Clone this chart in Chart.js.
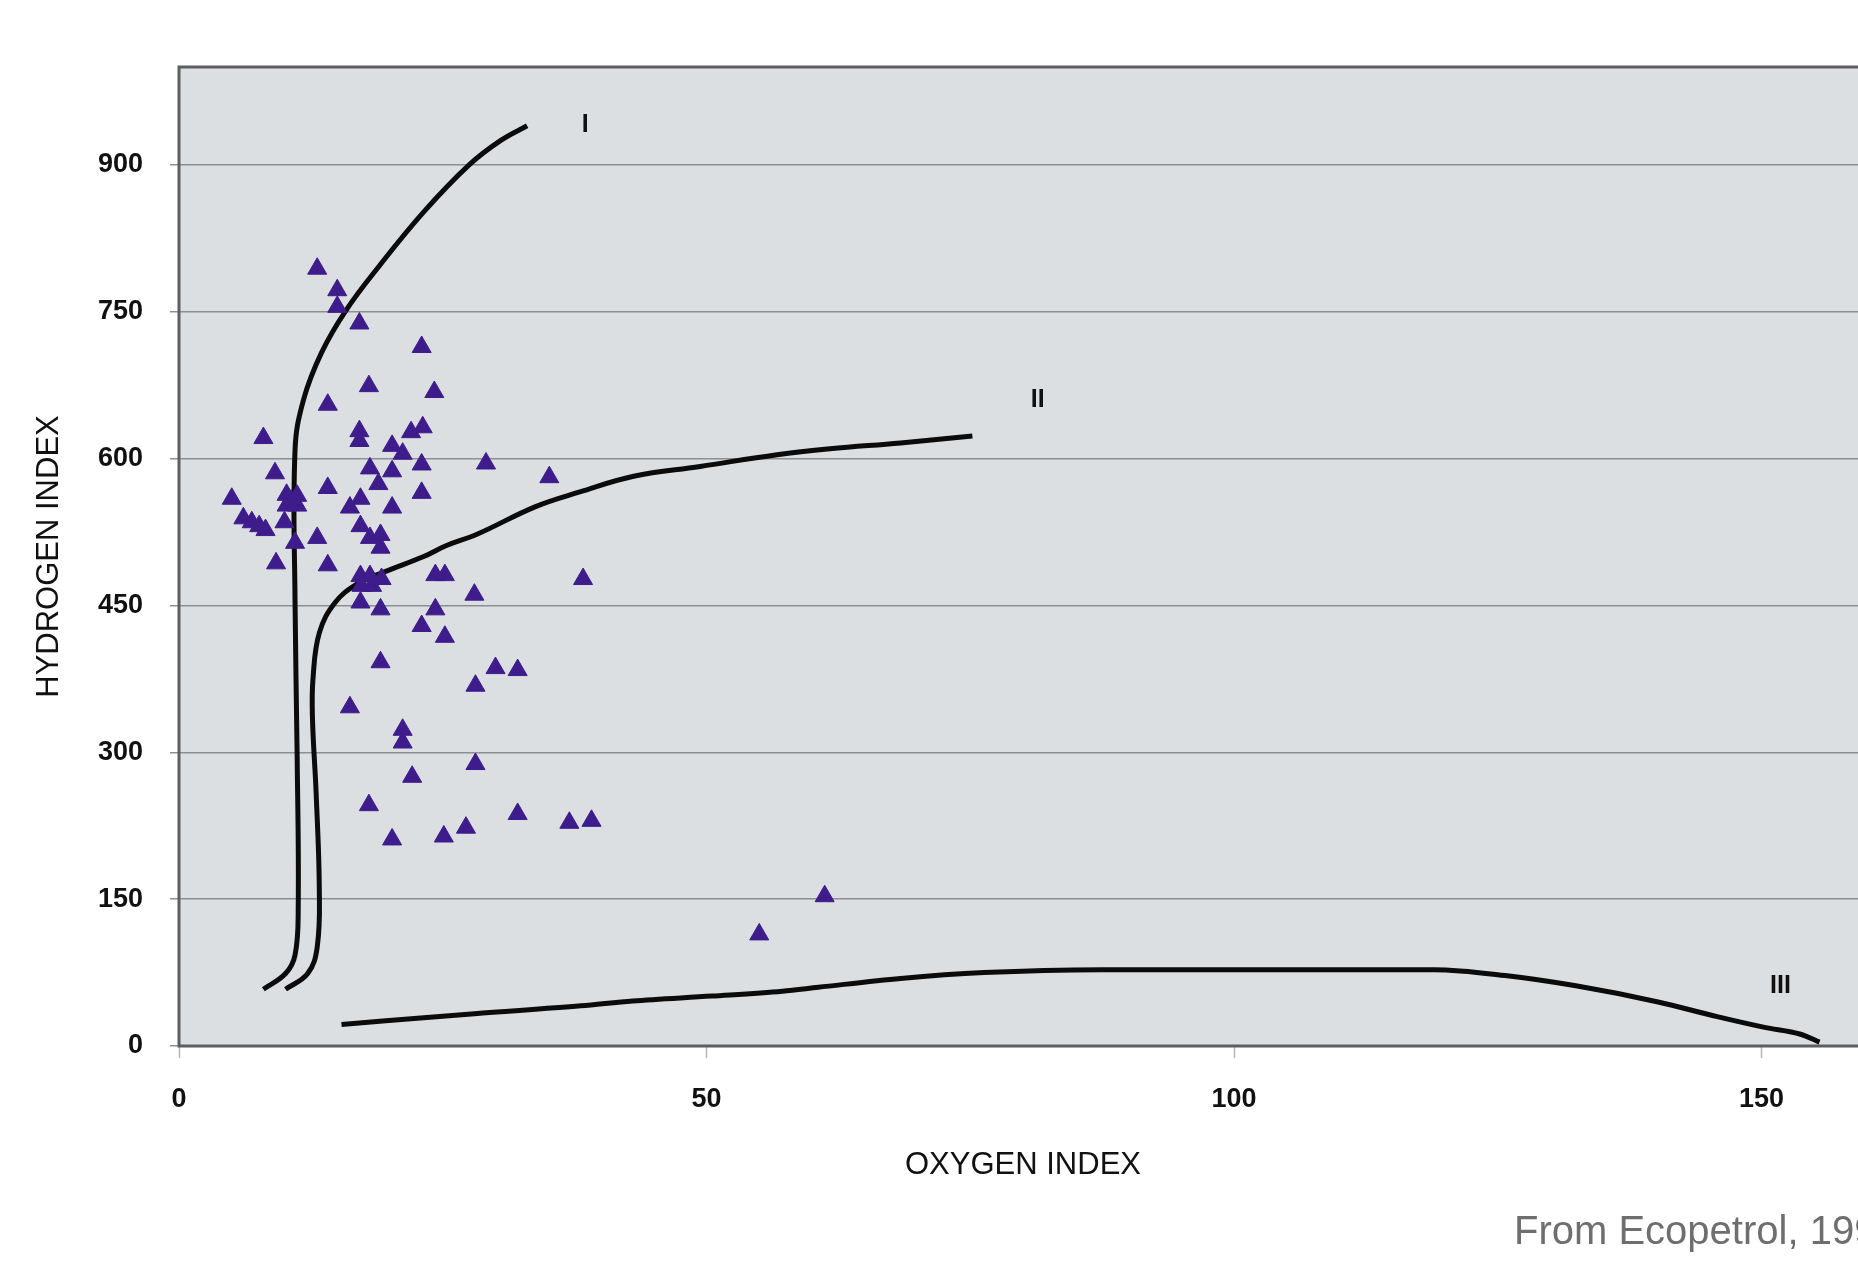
<!DOCTYPE html>
<html>
<head>
<meta charset="utf-8">
<title>Hydrogen index vs oxygen index</title>
<script src="https://cdn.jsdelivr.net/npm/chart.js@4/dist/chart.umd.min.js"></script>
<style>
  html, body { margin: 0; padding: 0; background: #fff; overflow: hidden; }
  #wrap { width: 1900px; height: 1264px; }
</style>
</head>
<body>
<div id="wrap"><canvas id="chart" width="1900" height="1264"></canvas></div>
<script>
// ===============================
// Data
// ===============================
const xTicks = [0, 50, 100, 150];
const yTicks = [0, 150, 300, 450, 600, 750, 900];

// Samples: oxygen index / hydrogen index
const sampleOI = [
  13.1, 15.0, 15.0, 17.1, 23.0, 18.0, 24.2, 14.1, 8.0, 17.1,
  17.1, 22.0, 23.1, 20.2, 21.2, 23.0, 9.1, 18.1, 20.2, 18.9,
  23.0, 14.1, 5.0, 10.2, 11.2, 10.2, 11.2, 10.6, 16.2, 17.2,
  20.2, 6.1, 6.9, 7.6, 8.2, 10.0, 17.2, 18.1, 19.1, 19.1,
  11.0, 13.1, 9.2, 14.1, 17.2, 18.1, 19.2, 17.3, 18.3, 17.2,
  19.1, 24.3, 25.2, 28.0, 24.3, 23.0, 25.2, 19.1, 29.1, 35.1,
  38.3, 30.0, 32.1, 28.1, 16.2, 21.2, 21.2, 28.1, 22.1, 18.0,
  32.1, 37.0, 39.1, 27.2, 25.1, 20.2, 55.0, 61.2
];
const sampleHI = [
  794, 772, 755, 738, 714, 674, 668, 655, 621, 628,
  618, 627, 632, 613, 605, 594, 585, 590, 587, 574,
  565, 570, 559, 563, 562, 552, 552, 557, 550, 559,
  550, 539, 535, 531, 527, 535, 531, 519, 522, 509,
  514, 519, 493, 491, 480, 480, 477, 470, 470, 453,
  446, 481, 481, 461, 446, 429, 418, 392, 595, 581,
  477, 386, 384, 368, 346, 323, 310, 288, 275, 246,
  237, 228, 230, 223, 214, 211, 114, 153
];

// Kerogen type curves
const typeI_OI = [8.0, 10.1, 11.0, 11.3, 11.2, 11.0, 11.0, 11.8, 13.5, 15.8, 19.0, 23.2, 27.5, 30.5, 33.0];
const typeI_HI = [58, 74, 93, 140, 296, 453, 609, 660, 708, 751, 797, 852, 900, 925, 940];

const typeII_OI = [10.1, 12.2, 13.1, 13.3, 13.0, 12.65, 12.7, 13.3, 14.8, 16.9, 19.4, 23.2, 25.3, 28.3, 33.8, 38.0, 43.1, 49.4, 56.7, 61.7, 68.4, 75.2];
const typeII_HI = [58, 74, 101, 160, 258, 335, 375, 422, 453, 472, 484, 500, 511, 523, 551, 566, 582, 592, 604, 610, 616, 623];

const typeIII_OI = [15.4, 28.0, 38.1, 43.0, 50.5, 57.2, 60.6, 68.4, 76.3, 87.5, 100, 119, 125.7, 132.4, 140.2, 145.8, 150.3, 153.7, 155.5];
const typeIII_HI = [22, 33, 41, 46, 51, 56, 60, 69, 75, 78, 78, 78, 72, 61.5, 45, 30, 19, 12, 4];

// Curve labels
const curveLabels = ['I', 'II', 'III'];
const curveLabelOI = [38.5, 81.4, 151.8];
const curveLabelHI = [941, 660, 61];

const sourceNote = 'From Ecopetrol, 1999';

function toPoints(xs, ys) {
  return xs.map((x, i) => ({ x: x, y: ys[i] }));
}

// ------------------------------
// Plugin: plot background, frame, curve labels, source note
// ------------------------------
const framePlugin = {
  id: 'framePlugin',
  beforeDraw(chart) {
    const { ctx, chartArea: a } = chart;
    ctx.save();
    ctx.fillStyle = '#ffffff';
    ctx.fillRect(0, 0, chart.width, chart.height);
    ctx.fillStyle = '#dcdfe2';
    ctx.fillRect(a.left, a.top, a.right - a.left, a.bottom - a.top);
    ctx.restore();
  },
  beforeDatasetsDraw(chart) {
    const { ctx, chartArea: a } = chart;
    ctx.save();
    ctx.strokeStyle = '#5c5e60';
    ctx.lineWidth = 3;
    ctx.strokeRect(a.left, a.top, a.right - a.left, a.bottom - a.top);
    ctx.restore();
  },
  afterDatasetsDraw(chart) {
    const { ctx } = chart;
    const xs = chart.scales.x, ys = chart.scales.y;
    ctx.save();
    ctx.fillStyle = '#111';
    ctx.font = 'bold 25px "Liberation Sans", Arial, sans-serif';
    ctx.textAlign = 'center';
    ctx.textBaseline = 'middle';
    curveLabels.forEach((t, i) => {
      ctx.fillText(t, xs.getPixelForValue(curveLabelOI[i]), ys.getPixelForValue(curveLabelHI[i]));
    });
    ctx.fillStyle = '#6e6e6e';
    ctx.font = '40px "Liberation Sans", Arial, sans-serif';
    ctx.textAlign = 'left';
    ctx.textBaseline = 'alphabetic';
    ctx.fillText(sourceNote, 1514, 1244);
    ctx.restore();
  }
};

const lineStyle = {
  showLine: true,
  borderColor: '#0b0b0b',
  borderWidth: 5,
  pointRadius: 0,
  pointHoverRadius: 0,
  tension: 0.4,
  fill: false
};

const ctx = document.getElementById('chart').getContext('2d');
new Chart(ctx, {
  type: 'scatter',
  data: {
    datasets: [
      {
        label: 'Samples',
        data: toPoints(sampleOI, sampleHI),
        pointStyle: 'triangle',
        pointRadius: 11,
        pointHoverRadius: 11,
        backgroundColor: '#3e1c8c',
        borderColor: '#3e1c8c',
        borderWidth: 1
      },
      Object.assign({ label: 'I', data: toPoints(typeI_OI, typeI_HI) }, lineStyle),
      Object.assign({ label: 'II', data: toPoints(typeII_OI, typeII_HI) }, lineStyle),
      Object.assign({ label: 'III', data: toPoints(typeIII_OI, typeIII_HI) }, lineStyle,
        { cubicInterpolationMode: 'monotone' })
    ]
  },
  options: {
    responsive: false,
    animation: false,
    devicePixelRatio: 1,
    layout: { padding: { left: 0, top: 67, right: 33, bottom: 0 } },
    plugins: {
      legend: { display: false },
      tooltip: { enabled: false }
    },
    scales: {
      x: {
        type: 'linear',
        min: 0,
        max: 160,
        afterFit: (scale) => { scale.height = 218; },
        ticks: {
          stepSize: 50,
          includeBounds: false,
          padding: 25,
          color: '#111',
          font: { family: '"Liberation Sans", Arial, sans-serif', size: 27, weight: 'bold' },
          maxRotation: 0
        },
        grid: {
          drawOnChartArea: false,
          drawTicks: true,
          tickLength: 12,
          tickColor: '#b4b6b8',
          tickWidth: 1.5
        },
        border: { display: false },
        title: {
          display: true,
          text: 'OXYGEN INDEX',
          color: '#111',
          font: { family: '"Liberation Sans", Arial, sans-serif', size: 31 },
          padding: { top: 0, bottom: 80 }
        }
      },
      y: {
        type: 'linear',
        min: 0,
        max: 1000,
        afterFit: (scale) => { scale.width = 179; },
        ticks: {
          stepSize: 150,
          includeBounds: false,
          padding: 27,
          color: '#111',
          font: { family: '"Liberation Sans", Arial, sans-serif', size: 27, weight: 'bold' }
        },
        grid: {
          color: '#8c8f92',
          lineWidth: 1.5,
          tickLength: 9,
          tickColor: '#8c8f92'
        },
        border: { display: false },
        title: {
          display: true,
          text: 'HYDROGEN INDEX',
          color: '#111',
          font: { family: '"Liberation Sans", Arial, sans-serif', size: 31 },
          padding: { top: 31, bottom: 0 }
        }
      }
    }
  },
  plugins: [framePlugin]
});
</script>
</body>
</html>
